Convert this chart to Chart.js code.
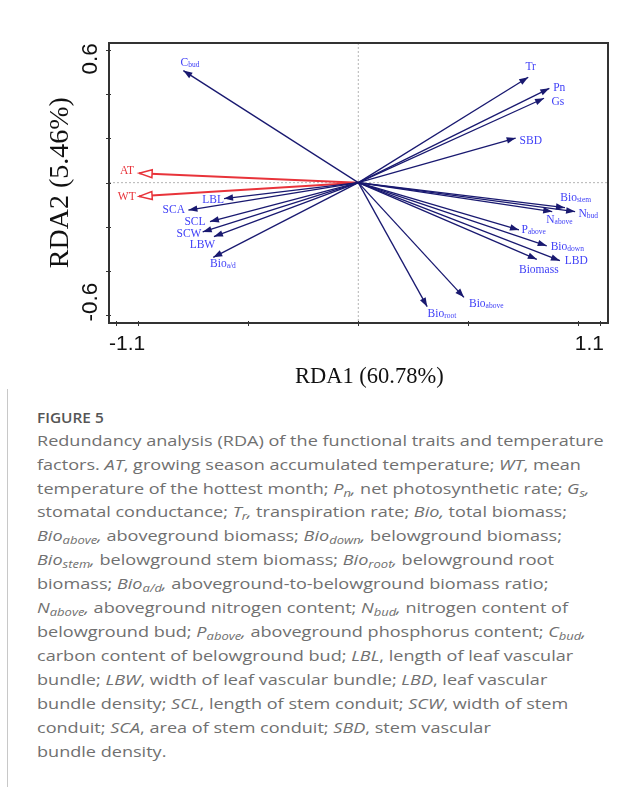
<!DOCTYPE html>
<html>
<head>
<meta charset="utf-8">
<script src="https://cdn.jsdelivr.net/npm/chart.js@4.4.1/dist/chart.umd.min.js"></script>
<style>
  html, body { margin: 0; padding: 0; background: #fff; }
  body { width: 642px; height: 787px; position: relative; overflow: hidden; }
  #box { position: absolute; left: 0; top: 0; width: 642px; height: 395px; }
  #edge { position: absolute; left: 7px; top: 389px; width: 1px; height: 400px; background: #c8c8c8; }
  #fig { position: absolute; left: 37px; top: 411px; font: 600 14px 'Open Sans'; line-height: 14px; color: #555; transform: scaleX(1.1); transform-origin: 0 0; }
  #caption { position: absolute; left: 37px; top: 428.6px; font: 15px 'Open Sans'; color: #707070; line-height: 23.95px; white-space: nowrap; transform: scaleX(1.205); transform-origin: 0 0; }
  #caption sub { font-size: 0.72em; vertical-align: -0.3em; line-height: 0; }
</style>
</head>
<body>
<div id="box"><canvas id="rda" width="642" height="395"></canvas></div>
<div id="edge"></div>
<div id="fig">FIGURE 5</div>
<div id="caption">
Redundancy analysis (RDA) of the functional traits and temperature<br>
factors. <i>AT</i>, growing season accumulated temperature; <i>WT</i>, mean<br>
temperature of the hottest month; <i>P<sub>n</sub>,</i> net photosynthetic rate; <i>G<sub>s</sub>,</i><br>
stomatal conductance; <i>T<sub>r</sub>,</i> transpiration rate; <i>Bio,</i> total biomass;<br>
<i>Bio<sub>above</sub>,</i> aboveground biomass; <i>Bio<sub>down</sub>,</i> belowground biomass;<br>
<i>Bio<sub>stem</sub>,</i> belowground stem biomass; <i>Bio<sub>root</sub>,</i> belowground root<br>
biomass; <i>Bio<sub>a/d</sub>,</i> aboveground-to-belowground biomass ratio;<br>
<i>N<sub>above</sub>,</i> aboveground nitrogen content; <i>N<sub>bud</sub>,</i> nitrogen content of<br>
belowground bud; <i>P<sub>above</sub>,</i> aboveground phosphorus content; <i>C<sub>bud</sub>,</i><br>
carbon content of belowground bud; <i>LBL</i>, length of leaf vascular<br>
bundle; <i>LBW</i>, width of leaf vascular bundle; <i>LBD</i>, leaf vascular<br>
bundle density; <i>SCL</i>, length of stem conduit; <i>SCW</i>, width of stem<br>
conduit; <i>SCA</i>, area of stem conduit; <i>SBD</i>, stem vascular<br>
bundle density.
</div>
<script>
// traits (blue arrows) - '_' separates the subscript part of the label
const traits = ['C_bud', 'Tr', 'Pn', 'Gs', 'SBD', 'Bio_stem', 'N_bud', 'N_above', 'P_above', 'Bio_down',
                'LBD', 'Biomass', 'Bio_above', 'Bio_root', 'LBL', 'SCA', 'SCL', 'SCW', 'LBW', 'Bio_a/d']
const traitRda1 = [-0.795, 0.772, 0.868, 0.844, 0.715, 0.939, 0.985, 0.881, 0.730, 0.856,
                   0.916, 0.811, 0.480, 0.313, -0.610, -0.772, -0.674, -0.707, -0.656, -0.659]
const traitRda2 = [0.507, 0.477, 0.427, 0.382, 0.202, -0.113, -0.131, -0.131, -0.214, -0.286,
                   -0.353, -0.347, -0.519, -0.561, -0.072, -0.124, -0.176, -0.223, -0.244, -0.338]

// temperature factors (red arrows)
const factors = ['AT', 'WT']
const factorRda1 = [-0.996, -0.996]
const factorRda2 = [0.043, -0.062]

// axes
const xTicks = [-1.1, -1, -0.5, 0, 0.5, 1, 1.1]
const yTicks = [-0.6, -0.4, -0.2, 0, 0.2, 0.4, 0.6]
const xTickText = ['-1.1', '1.1']
const yTickText = ['0.6', '-0.6']
const xTitle = 'RDA1 (60.78%)'
const yTitle = 'RDA2 (5.46%)'

// where each label sits relative to its arrow tip (px)
const labelShift = {
    'C_bud': [6.7, -8], 'Tr': [2.5, -11], 'Pn': [9.9, -1], 'Gs': [13.8, 2.5], 'SBD': [15.1, 2],
    'Bio_stem': [10.7, -10.5], 'N_bud': [13.2, 1.6], 'N_above': [7.2, 7.5], 'P_above': [14.7, -0.8],
    'Bio_down': [20.6, 0], 'LBD': [16.3, 0], 'Biomass': [2, 9.5], 'Bio_above': [22.3, 6.2],
    'Bio_root': [14.7, 6.5], 'LBL': [-11, 0.8], 'SCA': [-14.6, -1.2], 'SCL': [-15, 0],
    'SCW': [-13.7, 1], 'LBW': [-11.5, 7.3], 'Bio_a/d': [9.7, 5.7], 'AT': [-12, -3.3], 'WT': [-12.3, -0.5]
}

const navy = '#191970'
const red = '#e8333a'
const labelBlue = '#4141f7'

let datasets = []
traits.forEach((t, i) => {
    datasets.push({ label: t, data: [{x: 0, y: 0}, {x: traitRda1[i], y: traitRda2[i]}],
        showLine: true, borderColor: navy, borderWidth: 1.3, pointRadius: 0, kind: 'trait' })
})
factors.forEach((f, i) => {
    datasets.push({ label: f, data: [{x: 0, y: 0}, {x: factorRda1[i], y: factorRda2[i]}],
        showLine: true, borderColor: red, borderWidth: 2, pointRadius: 0, kind: 'factor' })
})

function drawHead(ctx, ox, oy, tx, ty, len, wid, open, color) {
    const d = Math.hypot(tx - ox, ty - oy)
    const ux = (tx - ox) / d, uy = (ty - oy) / d
    const bx = tx - ux * len, by = ty - uy * len
    ctx.beginPath()
    ctx.moveTo(tx, ty)
    ctx.lineTo(bx - uy * wid / 2, by + ux * wid / 2)
    ctx.lineTo(bx + uy * wid / 2, by - ux * wid / 2)
    ctx.closePath()
    if (open) {
        ctx.fillStyle = '#fff'
        ctx.fill()
        ctx.strokeStyle = color
        ctx.lineWidth = 1.5
        ctx.stroke()
    } else {
        ctx.fillStyle = color
        ctx.fill()
    }
}

function drawLabel(ctx, name, cx, cy, color) {
    const parts = name.split('_')
    const mainFont = "11.5px 'Liberation Serif'"
    const subFont = "7.5px 'Liberation Serif'"
    ctx.font = mainFont
    const w1 = ctx.measureText(parts[0]).width
    let w2 = 0
    if (parts[1]) {
        ctx.font = subFont
        w2 = ctx.measureText(parts[1]).width
    }
    const x0 = cx - (w1 + w2) / 2
    const base = cy + 3.8
    ctx.fillStyle = color
    ctx.textAlign = 'left'
    ctx.textBaseline = 'alphabetic'
    ctx.font = mainFont
    ctx.fillText(parts[0], x0, base)
    if (parts[1]) {
        ctx.font = subFont
        ctx.fillText(parts[1], x0 + w1, base + 1)
    }
}

const rdaPlugin = {
    id: 'rda',
    beforeDatasetsDraw(chart) {
        const {ctx, chartArea: a, scales: {x, y}} = chart
        const x0 = x.getPixelForValue(0), y0 = y.getPixelForValue(0)
        ctx.save()
        ctx.strokeStyle = '#b4b4b4'
        ctx.lineWidth = 1
        ctx.setLineDash([2, 2])
        ctx.beginPath()
        ctx.moveTo(x0, a.top); ctx.lineTo(x0, a.bottom)
        ctx.moveTo(a.left, y0); ctx.lineTo(a.right, y0)
        ctx.stroke()
        ctx.restore()
    },
    afterDatasetsDraw(chart) {
        const {ctx, chartArea: a, scales: {x, y}} = chart
        ctx.save()

        // arrow heads + labels
        chart.data.datasets.forEach((ds, i) => {
            const pts = chart.getDatasetMeta(i).data
            const o = pts[0], t = pts[1]
            const isFactor = ds.kind === 'factor'
            if (isFactor) drawHead(ctx, o.x, o.y, t.x, t.y, 13, 8, true, red)
            else drawHead(ctx, o.x, o.y, t.x, t.y, 9, 6.5, false, navy)
            const s = labelShift[ds.label] || [0, 0]
            drawLabel(ctx, ds.label, t.x + s[0], t.y + s[1], isFactor ? red : labelBlue)
        })

        // frame
        ctx.strokeStyle = '#333'
        ctx.lineWidth = 2
        ctx.strokeRect(a.left, a.top, a.right - a.left, a.bottom - a.top)

        // ticks
        ctx.lineWidth = 1
        ctx.strokeStyle = '#333'
        ctx.beginPath()
        xTicks.forEach(v => {
            const px = Math.round(x.getPixelForValue(v)) + 0.5
            ctx.moveTo(px, a.bottom - 2); ctx.lineTo(px, a.bottom + 3)
        })
        yTicks.forEach(v => {
            const py = Math.round(y.getPixelForValue(v)) + 0.5
            ctx.moveTo(a.left + 2, py); ctx.lineTo(a.left - 3, py)
        })
        ctx.stroke()

        // tick labels (only the outer ones are written)
        ctx.fillStyle = '#111'
        ctx.font = "21px 'Liberation Sans'"
        ctx.textAlign = 'center'
        ctx.textBaseline = 'alphabetic'
        xTickText.forEach(txt => {
            const v = parseFloat(txt)
            const px = x.getPixelForValue(v * 1.05 / 1.1)
            ctx.fillText(txt, px, a.bottom + 27)
        })
        ctx.font = "22.5px 'Liberation Sans'"
        yTickText.forEach(txt => {
            const v = parseFloat(txt)
            const py = y.getPixelForValue(v > 0 ? 0.56 : -0.54)
            ctx.save()
            ctx.translate(a.left - 12, py)
            ctx.rotate(-Math.PI / 2)
            ctx.fillText(txt, 0, 0)
            ctx.restore()
        })

        // axis titles
        ctx.font = "22.5px 'Liberation Serif'"
        ctx.fillText(xTitle, x.getPixelForValue(0.05), a.bottom + 60)
        ctx.font = "28px 'Liberation Serif'"
        ctx.save()
        ctx.translate(68, y.getPixelForValue(0))
        ctx.rotate(-Math.PI / 2)
        ctx.fillText(yTitle, 0, 0)
        ctx.restore()

        ctx.restore()
    }
}

const ctx = document.getElementById('rda').getContext('2d')
new Chart(ctx, {
    type: 'scatter',
    data: { datasets: datasets },
    options: {
        responsive: false,
        animation: false,
        layout: { padding: { left: 109, right: 34, top: 43, bottom: 72 } },
        plugins: { legend: { display: false }, tooltip: { enabled: false } },
        scales: {
            x: { type: 'linear', min: -1.1327, max: 1.1345, display: false },
            y: { type: 'linear', min: -0.635, max: 0.632, display: false }
        }
    },
    plugins: [rdaPlugin]
})
</script>
</body>
</html>
